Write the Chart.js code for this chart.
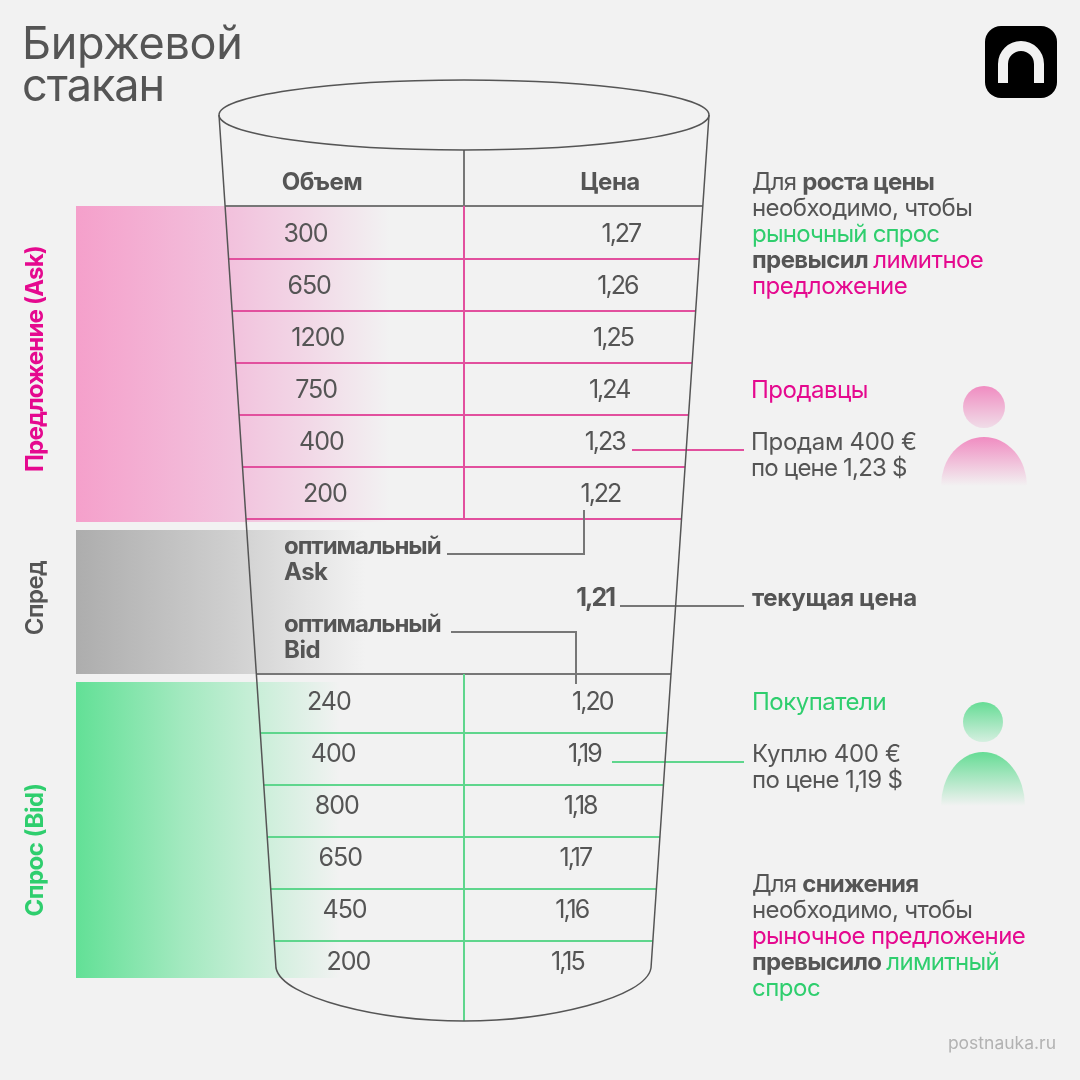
<!DOCTYPE html>
<html lang="ru">
<head>
<meta charset="utf-8">
<title>Биржевой стакан</title>
<script src="https://cdn.jsdelivr.net/npm/chart.js@4"></script>
<style>
  html, body { margin: 0; padding: 0; background: #f2f2f2; }
  canvas { display: block; }
</style>
</head>
<body>
<canvas id="orderBook" width="1080" height="1080"></canvas>
<script>
// order book values
const askPrices = ['1,27', '1,26', '1,25', '1,24', '1,23', '1,22'];
const askVolumes = [300, 650, 1200, 750, 400, 200];
const currentPrice = '1,21';
const bidPrices = ['1,20', '1,19', '1,18', '1,17', '1,16', '1,15'];
const bidVolumes = [240, 400, 800, 650, 450, 200];
// blank rows keep the spread open on the price axis
const priceRows = [...askPrices, ' ', currentPrice, '  ', ...bidPrices];

const GREY = '#555555', LINE_GREY = '#777777';
const PINK = '#e5098f', PINK_LINE = '#e2509e';
const GREEN = '#2fce6e', GREEN_LINE = '#5fd68d';
const FONT = 'Inter, "Noto Sans", sans-serif';

// the glass narrows downwards, text columns follow it
function volumeX(n) { return 283.5 + 3.9 * n; }
function priceX(n) { return 601.5 - 4.2 * n; }
function wallLeft(y) { return 219 + (y - 115) * 0.0667; }
function wallRight(y) { return 709 - (y - 115) * 0.0678; }

function text(ctx, str, x, y, size, weight, color, align, spacing) {
     ctx.font = weight + ' ' + size + 'px ' + FONT;
     ctx.letterSpacing = (spacing === undefined ? -0.5 : spacing) + 'px';
     ctx.fillStyle = color;
     ctx.textAlign = align || 'left';
     ctx.textBaseline = 'alphabetic';
     ctx.fillText(str, x, y);
}

// one line made of differently styled pieces
function richLine(ctx, parts, x, y, spacing) {
     parts.forEach(part => {
          text(ctx, part[0], x, y, 24, part[1], part[2], 'left', spacing);
          x += ctx.measureText(part[0]).width;
     });
}

function line(ctx, points, color, width) {
     ctx.beginPath();
     points.forEach((p, i) => i ? ctx.lineTo(p[0], p[1]) : ctx.moveTo(p[0], p[1]));
     ctx.strokeStyle = color;
     ctx.lineWidth = width || 2;
     ctx.stroke();
}

function band(ctx, y0, y1, x1, stops) {
     const g = ctx.createLinearGradient(76, 0, x1, 0);
     stops.forEach(s => g.addColorStop(s[0], s[1]));
     ctx.fillStyle = g;
     ctx.fillRect(76, y0, x1 - 76, y1 - y0);
}

function person(ctx, cx, headY, headR, bodyTop, bodyBottom, bodyW, color, fade) {
     let g = ctx.createLinearGradient(0, headY - headR, 0, headY + headR);
     g.addColorStop(0, color);
     g.addColorStop(1, fade);
     ctx.fillStyle = g;
     ctx.beginPath();
     ctx.arc(cx, headY, headR, 0, Math.PI * 2);
     ctx.fill();
     g = ctx.createLinearGradient(0, bodyTop, 0, bodyBottom);
     g.addColorStop(0, color);
     g.addColorStop(1, '#f2f2f2');
     ctx.fillStyle = g;
     ctx.beginPath();
     ctx.ellipse(cx, bodyBottom, bodyW, bodyBottom - bodyTop, 0, Math.PI, 0);
     ctx.closePath();
     ctx.fill();
}

// bands, glass and annotations are drawn around the scale positions
const glassPlugin = {
     id: 'glass',
     beforeDatasetsDraw(chart) {
          const ctx = chart.ctx, y = chart.scales.y;
          const rowY = label => y.getPixelForValue(priceRows.indexOf(label));
          const headY = rowY(askPrices[0]) - 27;
          const spreadY = rowY(bidPrices[0]) - 27;
          ctx.save();

          band(ctx, headY, rowY(askPrices[5]) + 29, 390,
               [[0, '#f5a0cb'], [0.5, '#f2c2dd'], [0.75, '#f2d9e7'], [1, '#f2f2f2']]);
          band(ctx, rowY(askPrices[5]) + 37, spreadY, 365,
               [[0, '#adadad'], [0.55, '#d0d0d0'], [0.8, '#e4e4e4'], [1, '#f2f2f2']]);
          band(ctx, spreadY + 8, rowY(bidPrices[5]) + 17, 340,
               [[0, '#62e096'], [0.4, '#a2e9bf'], [0.65, '#c4eed5'], [1, '#f2f2f2']]);

          // header and top rule
          line(ctx, [[464, 150], [464, headY]], LINE_GREY);
          line(ctx, [[wallLeft(headY), headY], [wallRight(headY), headY]], LINE_GREY);
          line(ctx, [[464, headY], [464, rowY(askPrices[5]) + 26]], PINK_LINE);
          askPrices.forEach(p => {
               const ly = rowY(p) + 26;
               line(ctx, [[wallLeft(ly), ly], [wallRight(ly), ly]], PINK_LINE);
          });
          line(ctx, [[wallLeft(spreadY), spreadY], [wallRight(spreadY), spreadY]], LINE_GREY);
          line(ctx, [[464, spreadY], [464, 1021]], GREEN_LINE);
          // bid rules sit a little lower than the row middle
          bidPrices.slice(0, 5).forEach(p => {
               const ly = rowY(p) + 32;
               line(ctx, [[wallLeft(ly), ly], [wallRight(ly), ly]], GREEN_LINE);
          });

          // callouts
          line(ctx, [[632, 450], [744, 450]], PINK_LINE);
          line(ctx, [[620, 606], [744, 606]], LINE_GREY);
          line(ctx, [[612, 762], [744, 762]], GREEN_LINE);
          line(ctx, [[447, 554], [584, 554], [584, 510]], LINE_GREY);
          line(ctx, [[451, 632], [576, 632], [576, 684]], LINE_GREY);

          // glass outline
          ctx.strokeStyle = '#555555';
          ctx.lineWidth = 1.5;
          ctx.beginPath();
          ctx.ellipse(464, 115, 245, 35, 0, 0, Math.PI * 2);
          ctx.stroke();
          ctx.beginPath();
          ctx.moveTo(219, 115);
          ctx.lineTo(276, 968);
          ctx.bezierCurveTo(282, 998, 380, 1021, 464, 1021);
          ctx.bezierCurveTo(548, 1021, 646, 998, 651, 968);
          ctx.lineTo(709, 115);
          ctx.stroke();

          ctx.restore();
     },
     afterDraw(chart) {
          const ctx = chart.ctx;
          ctx.save();

          text(ctx, 'Биржевой', 22, 59, 45, 400, GREY, 'left', -0.3);
          text(ctx, 'стакан', 22, 101, 45, 400, GREY, 'left', -1);
          text(ctx, 'Объем', 322, 190, 24, 700, GREY, 'center');
          text(ctx, 'Цена', 610, 190, 24, 700, GREY, 'center');

          // side labels
          [['Предложение (Ask)', 359, PINK, 700, -0.8], ['Спред', 598, GREY, 600, -0.5], ['Спрос (Bid)', 850, GREEN, 700, -0.5]].forEach(l => {
               ctx.save();
               ctx.translate(43, l[1]);
               ctx.rotate(-Math.PI / 2);
               text(ctx, l[0], 0, 0, 24, l[3], l[2], 'center', l[4]);
               ctx.restore();
          });

          text(ctx, 'оптимальный', 284, 554, 24, 700, GREY, 'left', -1.05);
          text(ctx, 'Ask', 284, 580, 24, 700, GREY);
          text(ctx, 'оптимальный', 284, 632, 24, 700, GREY, 'left', -1.05);
          text(ctx, 'Bid', 284, 658, 24, 700, GREY);

          richLine(ctx, [['Для ', 400, GREY], ['роста цены', 700, GREY]], 752, 190, -0.8);
          richLine(ctx, [['необходимо, чтобы', 400, GREY]], 752, 216, -0.6);
          richLine(ctx, [['рыночный спрос', 400, GREEN]], 752, 242, -0.8);
          richLine(ctx, [['превысил ', 700, GREY], ['лимитное', 400, PINK]], 752, 268, -0.6);
          richLine(ctx, [['предложение', 400, PINK]], 752, 294);

          richLine(ctx, [['Продавцы', 400, PINK]], 751, 398);
          richLine(ctx, [['Продам 400 €', 400, GREY]], 751, 450, -0.3);
          richLine(ctx, [['по цене 1,23 $', 400, GREY]], 751, 476, -0.8);
          richLine(ctx, [['текущая цена', 700, GREY]], 752, 606, -0.3);
          richLine(ctx, [['Покупатели', 400, GREEN]], 752, 710);
          richLine(ctx, [['Куплю 400 €', 400, GREY]], 752, 762, -0.3);
          richLine(ctx, [['по цене 1,19 $', 400, GREY]], 752, 788, -0.7);

          richLine(ctx, [['Для ', 400, GREY], ['снижения', 700, GREY]], 752, 892, -0.8);
          richLine(ctx, [['необходимо, чтобы', 400, GREY]], 752, 918, -0.6);
          richLine(ctx, [['рыночное предложение', 400, PINK]], 752, 944, -0.6);
          richLine(ctx, [['превысило ', 700, GREY], ['лимитный', 400, GREEN]], 752, 970, -0.7);
          richLine(ctx, [['спрос', 400, GREEN]], 752, 996);

          text(ctx, 'postnauka.ru', 1056, 1049, 17.5, 400, '#b2b2b2', 'right', 0);

          person(ctx, 984, 407, 21, 437, 486, 43, '#f08cc1', '#f0dde8');
          person(ctx, 983, 722, 20, 752, 806, 42, '#66dc95', '#d5efe0');

          // logo
          ctx.fillStyle = '#000000';
          ctx.beginPath();
          ctx.roundRect(985, 26, 72, 72, 16);
          ctx.fill();
          ctx.strokeStyle = '#f2f2f2';
          ctx.lineWidth = 10;
          ctx.beginPath();
          ctx.moveTo(1003, 83);
          ctx.lineTo(1003, 64);
          ctx.arc(1021, 64, 18, Math.PI, 0);
          ctx.lineTo(1039, 83);
          ctx.stroke();

          // volumes and prices sit on the chart points
          chart.data.datasets.forEach((ds, d) => {
               chart.getDatasetMeta(d).data.forEach((pt, i) => {
                    const isPrice = ds.label !== 'Объем ask' && ds.label !== 'Объем bid';
                    const bold = ds.label === 'Текущая цена';
                    text(ctx, String(ds.labelsText[i]), pt.x, pt.y + 9, 25, bold ? 700 : 400, GREY, 'left', isPrice ? -2 : -1);
               });
          });
          ctx.restore();
     }
};

const allPrices = [...askPrices, currentPrice, ...bidPrices];
const plainPrices = allPrices.filter(p => p !== currentPrice);

new Chart(document.getElementById('orderBook'), {
     type: 'scatter',
     data: {
          datasets: [
               {
                    label: 'Объем ask',
                    labelsText: askVolumes,
                    data: askPrices.map((p, i) => ({ x: volumeX(i), y: p }))
               },
               {
                    label: 'Объем bid',
                    labelsText: bidVolumes,
                    data: bidPrices.map((p, i) => ({ x: volumeX(i + 6), y: p }))
               },
               {
                    label: 'Цена',
                    labelsText: plainPrices,
                    data: plainPrices.map(p => ({ x: priceX(allPrices.indexOf(p)), y: p }))
               },
               {
                    label: 'Текущая цена',
                    labelsText: [currentPrice],
                    data: [{ x: priceX(allPrices.indexOf(currentPrice)), y: currentPrice }]
               }
          ]
     },
     options: {
          responsive: false,
          animation: false,
          devicePixelRatio: 1,
          layout: { padding: { top: 233, bottom: 119, left: 0, right: 0 } },
          elements: { point: { radius: 0 } },
          plugins: { legend: { display: false }, tooltip: { enabled: false } },
          scales: {
               x: { type: 'linear', min: 0, max: 1080, display: false },
               y: { type: 'category', labels: priceRows, offset: false, display: false }
          }
     },
     plugins: [glassPlugin]
});
</script>
</body>
</html>
